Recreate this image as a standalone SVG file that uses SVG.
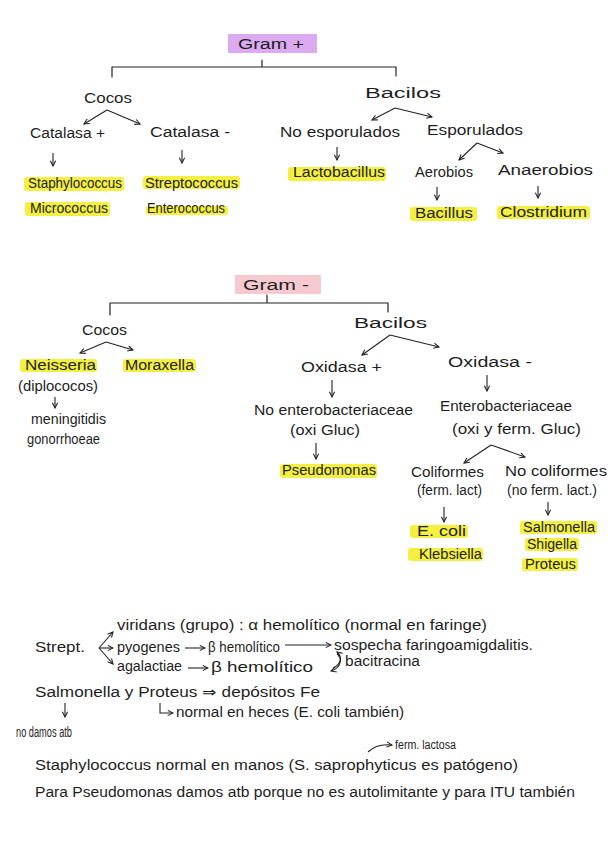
<svg xmlns="http://www.w3.org/2000/svg" width="614" height="848" viewBox="0 0 614 848">
<style>
.t{font-family:"Liberation Sans",Arial,sans-serif;font-size:14px;fill:#1e1e1e}
.s{font-size:12px}
.hl{fill:#f3ee2c;opacity:0.9}
.ln{fill:none;stroke:#222;stroke-width:1.2;stroke-linecap:round;stroke-linejoin:round}
.ar{fill:none;stroke:#222;stroke-width:1.1;marker-end:url(#ah)}
</style>
<defs>
<marker id="ah" viewBox="0 0 8 8" refX="7" refY="4" markerWidth="7" markerHeight="7" orient="auto" markerUnits="userSpaceOnUse">
<path d="M1,1 L7,4 L1,7" fill="none" stroke="#222" stroke-width="1.2"/>
</marker>
</defs>
<rect width="614" height="848" fill="#ffffff"/>

<!-- Connectors -->
<g id="connectors">
  <!-- Gram + bracket -->
  <path class="ln" d="M262,60 L262,67 M112,77 L112,67 L396,67 L396,76"/>
  <path class="ar" d="M107,110 L84,124"/>
  <path class="ar" d="M107,110 L140,124"/>
  <path class="ar" d="M53,153 L53,166"/>
  <path class="ar" d="M182,150 L182,163"/>
  <path class="ar" d="M395,108 L372,120"/>
  <path class="ar" d="M395,108 L432,117"/>
  <path class="ar" d="M337,147 L337,160"/>
  <path class="ar" d="M477,143 L459,160"/>
  <path class="ar" d="M477,143 L503,153"/>
  <path class="ar" d="M437,187 L437,200"/>
  <path class="ar" d="M538,186 L538,198"/>
  <!-- Gram - bracket -->
  <path class="ln" d="M267,295 L267,303 M110,315 L110,303 L388,303 L388,312"/>
  <path class="ar" d="M106,342 L80,353"/>
  <path class="ar" d="M106,342 L133,350"/>
  <path class="ar" d="M55,397 L55,408"/>
  <path class="ar" d="M390,335 L362,355"/>
  <path class="ar" d="M390,335 L439,347"/>
  <path class="ar" d="M332,380 L332,397"/>
  <path class="ar" d="M487,375 L487,391"/>
  <path class="ar" d="M316,443 L316,459"/>
  <path class="ar" d="M491,445 L464,463"/>
  <path class="ar" d="M491,445 L525,457"/>
  <path class="ar" d="M444,507 L444,522"/>
  <path class="ar" d="M548,502 L548,515"/>
  <!-- Notes -->
  <path class="ar" d="M99,648 L113,632"/>
  <path class="ar" d="M99,648 L113,648"/>
  <path class="ar" d="M99,648 L113,664"/>
  <path class="ar" d="M185,648 L205,648"/>
  <path class="ar" d="M188,668 L208,668"/>
  <path class="ar" d="M285,645 L331,645"/>
  <path class="ar" d="M333,668 C342,664 342,656 337,652"/>
  <path class="ar" d="M337,654 C343,658 341,668 331,671"/>
  <path class="ar" d="M65,703 L65,717"/>
  <path class="ar" d="M160,703 L160,713 L173,713"/>
  <path class="ar" d="M368,752 C374,746 382,744 392,745"/>
</g>

<!-- Gram + -->
<g id="gram-pos">
  <rect x="228" y="34" width="89" height="19" fill="#dcaaf0"/>
  <text class="t" x="238" y="49" font-size="15" textLength="66" lengthAdjust="spacingAndGlyphs">Gram +</text>
</g>
<g id="gp-cocos"><text class="t" x="84" y="103" font-size="15" textLength="48" lengthAdjust="spacingAndGlyphs">Cocos</text></g>
<g id="gp-bacilos"><text class="t" x="365" y="98" font-size="16" textLength="76" lengthAdjust="spacingAndGlyphs">Bacilos</text></g>
<g id="catalasa-pos"><text class="t" x="30" y="138" textLength="75" lengthAdjust="spacingAndGlyphs">Catalasa +</text></g>
<g id="catalasa-neg"><text class="t" x="150" y="137" textLength="80" lengthAdjust="spacingAndGlyphs">Catalasa -</text></g>
<g id="staph">
  <rect class="hl" x="24" y="177" width="100" height="14" rx="3"/>
  <text class="t" x="28" y="188" textLength="94" lengthAdjust="spacingAndGlyphs">Staphylococcus</text>
</g>
<g id="micro">
  <rect class="hl" x="25" y="202" width="85" height="14" rx="3"/>
  <text class="t" x="30" y="213" textLength="78" lengthAdjust="spacingAndGlyphs">Micrococcus</text>
</g>
<g id="strepto">
  <rect class="hl" x="143" y="176" width="97" height="13" rx="3"/>
  <text class="t" x="145" y="188" textLength="93" lengthAdjust="spacingAndGlyphs">Streptococcus</text>
</g>
<g id="entero">
  <rect class="hl" x="146" y="206" width="82" height="9" rx="3" opacity="0.6"/>
  <text class="t" x="147" y="213" textLength="78" lengthAdjust="spacingAndGlyphs">Enterococcus</text>
</g>
<g id="no-esporulados"><text class="t" x="280" y="137" textLength="120" lengthAdjust="spacingAndGlyphs">No esporulados</text></g>
<g id="esporulados"><text class="t" x="427" y="135" textLength="96" lengthAdjust="spacingAndGlyphs">Esporulados</text></g>
<g id="lacto">
  <rect class="hl" x="288" y="167" width="98" height="14" rx="3"/>
  <text class="t" x="293" y="177" textLength="92" lengthAdjust="spacingAndGlyphs">Lactobacillus</text>
</g>
<g id="aerobios"><text class="t" x="415" y="177" textLength="58" lengthAdjust="spacingAndGlyphs">Aerobios</text></g>
<g id="anaerobios"><text class="t" x="498" y="175" textLength="95" lengthAdjust="spacingAndGlyphs">Anaerobios</text></g>
<g id="bacillus">
  <rect class="hl" x="410" y="207" width="67" height="14" rx="3"/>
  <text class="t" x="415" y="218" textLength="58" lengthAdjust="spacingAndGlyphs">Bacillus</text>
</g>
<g id="clostridium">
  <rect class="hl" x="497" y="206" width="93" height="13" rx="3"/>
  <text class="t" x="500" y="217" textLength="87" lengthAdjust="spacingAndGlyphs">Clostridium</text>
</g>

<!-- Gram - -->
<g id="gram-neg">
  <rect x="235" y="275" width="86" height="19" fill="#f6c9d0"/>
  <text class="t" x="243" y="290" font-size="15" textLength="66" lengthAdjust="spacingAndGlyphs">Gram -</text>
</g>
<g id="gn-cocos"><text class="t" x="82" y="335" font-size="15" textLength="45" lengthAdjust="spacingAndGlyphs">Cocos</text></g>
<g id="neisseria">
  <rect class="hl" x="20" y="359" width="77" height="13" rx="3"/>
  <text class="t" x="25" y="370" textLength="71" lengthAdjust="spacingAndGlyphs">Neisseria</text>
  <text class="t" x="18" y="391" textLength="80" lengthAdjust="spacingAndGlyphs">(diplococos)</text>
</g>
<g id="moraxella">
  <rect class="hl" x="123" y="359" width="73" height="13" rx="3"/>
  <text class="t" x="125" y="370" textLength="69" lengthAdjust="spacingAndGlyphs">Moraxella</text>
</g>
<g id="neisseria-spp">
  <text class="t" x="31" y="424" textLength="75" lengthAdjust="spacingAndGlyphs">meningitidis</text>
  <text class="t" x="27" y="444" textLength="73" lengthAdjust="spacingAndGlyphs">gonorrhoeae</text>
</g>
<g id="gn-bacilos"><text class="t" x="354" y="328" font-size="16" textLength="73" lengthAdjust="spacingAndGlyphs">Bacilos</text></g>
<g id="oxidasa-pos"><text class="t" x="301" y="372" textLength="81" lengthAdjust="spacingAndGlyphs">Oxidasa +</text></g>
<g id="oxidasa-neg"><text class="t" x="448" y="367" textLength="84" lengthAdjust="spacingAndGlyphs">Oxidasa -</text></g>
<g id="no-entero">
  <text class="t" x="254" y="415" textLength="159" lengthAdjust="spacingAndGlyphs">No enterobacteriaceae</text>
  <text class="t" x="290" y="435" textLength="70" lengthAdjust="spacingAndGlyphs">(oxi Gluc)</text>
</g>
<g id="pseudomonas">
  <rect class="hl" x="280" y="464" width="97" height="14" rx="3"/>
  <text class="t" x="282" y="475" textLength="94" lengthAdjust="spacingAndGlyphs">Pseudomonas</text>
</g>
<g id="entero-bact">
  <text class="t" x="440" y="411" textLength="132" lengthAdjust="spacingAndGlyphs">Enterobacteriaceae</text>
  <text class="t" x="452" y="434" textLength="129" lengthAdjust="spacingAndGlyphs">(oxi y ferm. Gluc)</text>
</g>
<g id="coliformes">
  <text class="t" x="411" y="477" textLength="73" lengthAdjust="spacingAndGlyphs">Coliformes</text>
  <text class="t" x="417" y="495" textLength="65" lengthAdjust="spacingAndGlyphs">(ferm. lact)</text>
</g>
<g id="no-coliformes">
  <text class="t" x="505" y="476" textLength="102" lengthAdjust="spacingAndGlyphs">No coliformes</text>
  <text class="t" x="507" y="495" textLength="90" lengthAdjust="spacingAndGlyphs">(no ferm. lact.)</text>
</g>
<g id="ecoli">
  <rect class="hl" x="410" y="525" width="58" height="13" rx="3"/>
  <text class="t" x="417" y="536" textLength="49" lengthAdjust="spacingAndGlyphs">E. coli</text>
</g>
<g id="klebsiella">
  <rect class="hl" x="408" y="548" width="75" height="13" rx="3"/>
  <text class="t" x="419" y="559" textLength="63" lengthAdjust="spacingAndGlyphs">Klebsiella</text>
</g>
<g id="salmonella">
  <rect class="hl" x="520" y="521" width="77" height="13" rx="3"/>
  <text class="t" x="523" y="532" textLength="72" lengthAdjust="spacingAndGlyphs">Salmonella</text>
</g>
<g id="shigella">
  <rect class="hl" x="525" y="538" width="54" height="13" rx="3"/>
  <text class="t" x="527" y="549" textLength="50" lengthAdjust="spacingAndGlyphs">Shigella</text>
</g>
<g id="proteus">
  <rect class="hl" x="522" y="558" width="56" height="13" rx="3"/>
  <text class="t" x="525" y="569" textLength="51" lengthAdjust="spacingAndGlyphs">Proteus</text>
</g>

<!-- Notes -->
<g id="notes-strept">
  <text class="t" x="117" y="630" textLength="370" lengthAdjust="spacingAndGlyphs">viridans (grupo) : α hemolítico (normal en faringe)</text>
  <text class="t" x="35" y="652" textLength="50" lengthAdjust="spacingAndGlyphs">Strept.</text>
  <text class="t" x="117" y="652" textLength="63" lengthAdjust="spacingAndGlyphs">pyogenes</text>
  <text class="t" x="208" y="652" textLength="72" lengthAdjust="spacingAndGlyphs">β hemolítico</text>
  <text class="t" x="334" y="650" textLength="199" lengthAdjust="spacingAndGlyphs">sospecha faringoamigdalitis.</text>
  <text class="t" x="117" y="671" textLength="65" lengthAdjust="spacingAndGlyphs">agalactiae</text>
  <text class="t" x="211" y="672" textLength="102" lengthAdjust="spacingAndGlyphs">β hemolítico</text>
  <text class="t" x="345" y="666" textLength="75" lengthAdjust="spacingAndGlyphs">bacitracina</text>
</g>
<g id="notes-salmonella">
  <text class="t" x="35" y="697" textLength="285" lengthAdjust="spacingAndGlyphs">Salmonella y Proteus ⇒ depósitos Fe</text>
  <text class="t" x="176" y="717" textLength="228" lengthAdjust="spacingAndGlyphs">normal en heces (E. coli también)</text>
  <text class="t" x="16" y="737" textLength="56" lengthAdjust="spacingAndGlyphs">no damos atb</text>
</g>
<g id="notes-staph">
  <text class="t s" x="395" y="749" textLength="61" lengthAdjust="spacingAndGlyphs">ferm. lactosa</text>
  <text class="t" x="35" y="770" textLength="483" lengthAdjust="spacingAndGlyphs">Staphylococcus normal en manos (S. saprophyticus es patógeno)</text>
  <text class="t" x="35" y="797" textLength="540" lengthAdjust="spacingAndGlyphs">Para Pseudomonas damos atb porque no es autolimitante y para ITU también</text>
</g>
</svg>
